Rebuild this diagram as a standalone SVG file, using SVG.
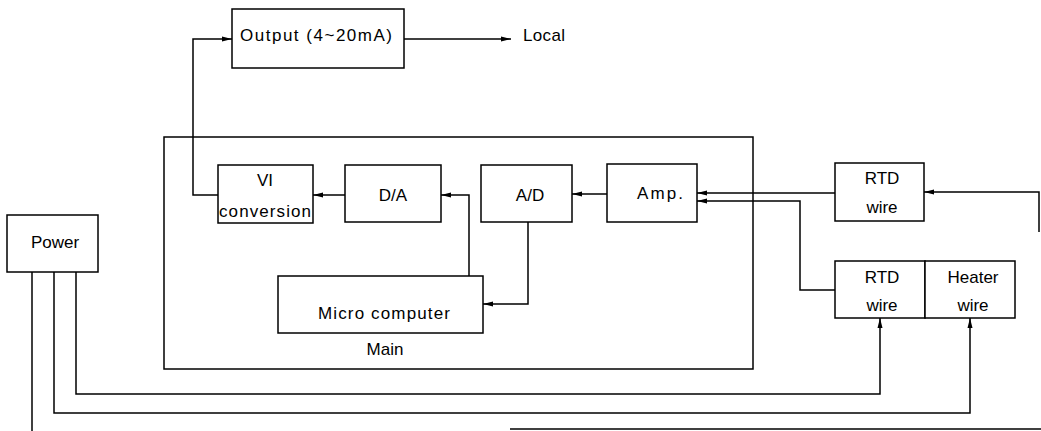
<svg xmlns="http://www.w3.org/2000/svg" width="1041" height="431" viewBox="0 0 1041 431">
<defs>
<style>
.box{fill:#fff;stroke:#000;stroke-width:1.5}
.wire{fill:none;stroke:#000;stroke-width:1.5}
text{font-family:"Liberation Sans",Arial,sans-serif;font-size:17px;fill:#000;text-anchor:middle}
</style>
<marker id="ah" viewBox="0 0 10 6" refX="10" refY="3" markerWidth="10" markerHeight="6" markerUnits="userSpaceOnUse" orient="auto">
<path d="M0,0.5 L10,3 L0,5.5 Z" fill="#000"/>
</marker>
</defs>
<rect width="1041" height="431" fill="#fff"/>

<g id="main">
<rect class="box" x="164" y="137" width="589" height="232" fill="none"/>
<text x="385" y="355">Main</text>
</g>

<g id="output">
<rect class="box" x="232" y="9" width="172" height="59"/>
<text x="316" y="41" textLength="152" lengthAdjust="spacing">Output (4~20mA)</text>
</g>
<g id="local">
<text x="544" y="41" textLength="42" lengthAdjust="spacing">Local</text>
</g>

<g id="vi">
<rect class="box" x="218" y="165" width="95" height="58"/>
<text x="265" y="186">VI</text>
<text x="265" y="217" textLength="92" lengthAdjust="spacing">conversion</text>
</g>

<g id="da">
<rect class="box" x="345" y="165" width="96" height="57"/>
<text x="393" y="201">D/A</text>
</g>

<g id="ad">
<rect class="box" x="481" y="165" width="91" height="57"/>
<text x="530" y="201">A/D</text>
</g>

<g id="amp">
<rect class="box" x="607" y="164" width="90" height="58"/>
<text x="660" y="199" textLength="46" lengthAdjust="spacing">Amp.</text>
</g>

<g id="micro">
<rect class="box" x="278" y="276" width="205" height="57"/>
<text x="384" y="319" textLength="132" lengthAdjust="spacing">Micro computer</text>
</g>

<g id="rtd1">
<rect class="box" x="835" y="163" width="89" height="58"/>
<text x="882" y="184">RTD</text>
<text x="882" y="213">wire</text>
</g>

<g id="rtd2">
<rect class="box" x="835" y="261" width="90" height="57"/>
<text x="882" y="283">RTD</text>
<text x="882" y="311">wire</text>
</g>

<g id="heater">
<rect class="box" x="925" y="261" width="90" height="57"/>
<text x="973" y="283">Heater</text>
<text x="973" y="311">wire</text>
</g>

<g id="power">
<rect class="box" x="7" y="215" width="91" height="57"/>
<text x="55" y="248">Power</text>
</g>

<g id="connectors">
<polyline class="wire" points="218,195 193,195 193,39 232,39" marker-end="url(#ah)"/>
<line class="wire" x1="404" y1="39" x2="511" y2="39" marker-end="url(#ah)"/>
<line class="wire" x1="345" y1="195" x2="313" y2="195" marker-end="url(#ah)"/>
<polyline class="wire" points="469,276 469,195 441,195" marker-end="url(#ah)"/>
<line class="wire" x1="607" y1="194" x2="572" y2="194" marker-end="url(#ah)"/>
<polyline class="wire" points="528,222 528,304 483,304" marker-end="url(#ah)"/>
<line class="wire" x1="835" y1="193" x2="697" y2="193" marker-end="url(#ah)"/>
<polyline class="wire" points="835,290 800,290 800,201 697,201" marker-end="url(#ah)"/>
<polyline class="wire" points="1039,232 1039,192 924,192" marker-end="url(#ah)"/>
<polyline class="wire" points="76,272 76,394 880,394 880,318" marker-end="url(#ah)"/>
<polyline class="wire" points="54,272 54,413 970,413 970,318" marker-end="url(#ah)"/>
<line class="wire" x1="32" y1="272" x2="32" y2="431"/>
<line class="wire" x1="510" y1="429" x2="1041" y2="429"/>
</g>
</svg>
